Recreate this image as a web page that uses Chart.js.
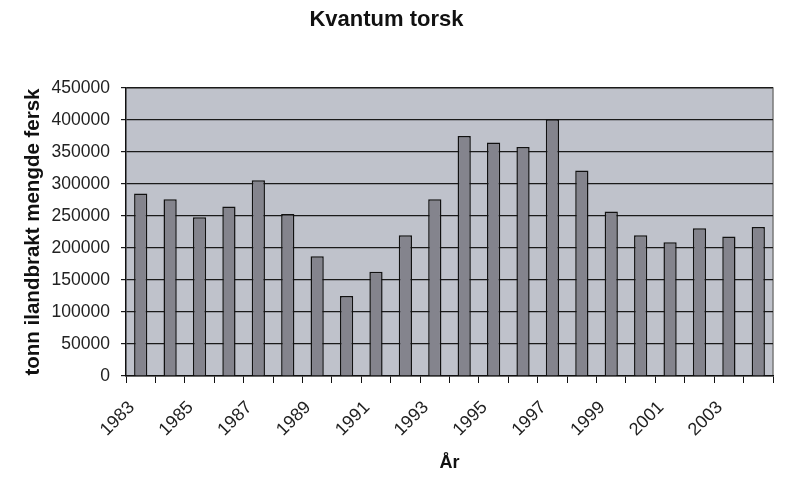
<!DOCTYPE html>
<html>
<head>
<meta charset="utf-8">
<script src="https://cdn.jsdelivr.net/npm/chart.js@4/dist/chart.umd.min.js"></script>
<style>
  html, body { margin: 0; padding: 0; background: #fff; }
  #wrap { width: 800px; height: 487px; }
</style>
</head>
<body>
<div id="wrap"><canvas id="torskChart"></canvas></div>
<script>
// Data
var years = ['1983', '1984', '1985', '1986', '1987', '1988', '1989', '1990', '1991', '1992', '1993',
             '1994', '1995', '1996', '1997', '1998', '1999', '2000', '2001', '2002', '2003', '2004'];
var landings = [285000, 276000, 248000, 265000, 306000, 253000, 187000, 125000, 163000, 220000, 276000,
                375000, 365000, 358000, 401000, 321000, 257000, 220000, 209000, 231000, 218000, 233000];
var shownYears = ['1983', '1985', '1987', '1989', '1991', '1993', '1995', '1997', '1999', '2001', '2003'];

Chart.defaults.font.family = "'Liberation Sans', Arial, sans-serif";
Chart.defaults.color = '#222';

// grey plot area with a darker frame on top / right
var plotBackground = {
    id: 'plotBackground',
    beforeDraw: function (chart) {
        var a = chart.chartArea, ctx = chart.ctx;
        ctx.save();
        ctx.fillStyle = '#bfc2cb';
        ctx.fillRect(a.left, a.top, a.right - a.left, a.bottom - a.top);
        ctx.strokeStyle = '#7a7a7a';
        ctx.lineWidth = 1.5;
        ctx.beginPath();
        ctx.moveTo(a.left, a.top);
        ctx.lineTo(a.right, a.top);
        ctx.lineTo(a.right, a.bottom);
        ctx.stroke();
        ctx.restore();
    }
};

var ctx = document.getElementById('torskChart').getContext('2d');
new Chart(ctx, {
    type: 'bar',
    data: {
        labels: years,
        datasets: [{
            label: 'Kvantum torsk',
            data: landings,
            backgroundColor: '#84848d',
            borderColor: '#111',
            borderWidth: 1.5,
            borderSkipped: 'bottom',
            barPercentage: 0.45,
            categoryPercentage: 1.0
        }]
    },
    options: {
        responsive: true,
        maintainAspectRatio: false,
        animation: false,
        layout: {padding: {left: 0, right: 27, top: 0, bottom: 0}},
        plugins: {
            legend: {display: false},
            tooltip: {enabled: false},
            title: {
                display: true,
                text: 'Kvantum torsk',
                color: '#111',
                font: {size: 22, weight: 'bold'},
                padding: {top: 7, bottom: 54.6}
            }
        },
        scales: {
            x: {
                afterFit: function (scale) { scale.height = 111; },
                grid: {display: true, drawOnChartArea: false, drawTicks: true, tickLength: 7, color: '#111', offset: true},
                border: {color: '#111', width: 1.5},
                ticks: {
                    autoSkip: false,
                    minRotation: 45,
                    maxRotation: 45,
                    padding: 14,
                    labelOffset: -9,
                    color: '#222',
                    font: {size: 18},
                    callback: function (value, index) {
                        var lbl = years[index];
                        return shownYears.indexOf(lbl) >= 0 ? lbl : '';
                    }
                },
                title: {
                    display: true,
                    text: 'År',
                    color: '#111',
                    font: {size: 18, weight: 'bold'},
                    padding: {top: 0, bottom: 13}
                }
            },
            y: {
                min: 0,
                max: 450000,
                afterFit: function (scale) { scale.width = 126; },
                grid: {color: '#1a1a1a', lineWidth: 1.2, tickLength: 5},
                border: {color: '#111', width: 1.5},
                ticks: {
                    stepSize: 50000,
                    padding: 11,
                    color: '#222',
                    font: {size: 17.5},
                    callback: function (value) { return String(value); }
                },
                title: {
                    display: true,
                    text: 'tonn ilandbrakt mengde fersk',
                    color: '#111',
                    font: {size: 20.5, weight: 'bold'},
                    padding: {top: 21, bottom: 0}
                }
            }
        }
    },
    plugins: [plotBackground]
});
</script>
</body>
</html>
